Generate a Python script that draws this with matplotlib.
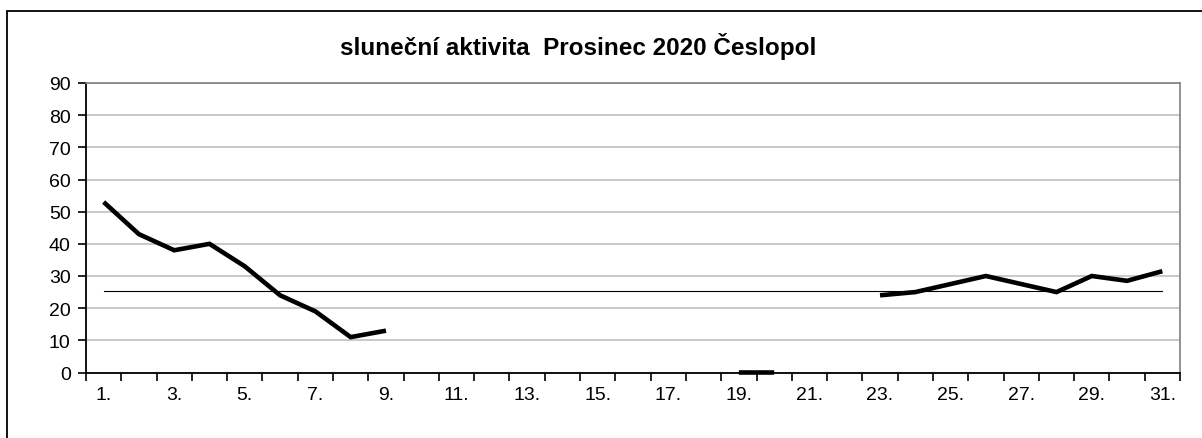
import numpy as np
import matplotlib.pyplot as plt
from matplotlib.patches import Rectangle

plt.rcParams['font.family'] = ['Liberation Sans', 'DejaVu Sans']

title = "sluneční aktivita  Prosinec 2020 Česlopol"
days = np.arange(1, 32)
activity = [53, 43, 38, 40, 33, 24, 19, 11, 13,
            np.nan, np.nan, np.nan, np.nan, np.nan, np.nan, np.nan, np.nan, np.nan,
            0, 0, np.nan, np.nan,
            24, 25, 27.5, 30, 27.5, 25, 30, 28.5, 31.5]
average = 25.3
y_ticks = np.arange(0, 91, 10)

W, H = 1202, 439
fig = plt.figure(figsize=(W / 100, H / 100), dpi=100)

# outer chart frame (cut at right and bottom edges)
fig.patches.append(Rectangle((7 / W, -0.1), 1.2, (H - 12) / H + 0.1,
                             transform=fig.transFigure, fill=False,
                             edgecolor='black', linewidth=1.3))

left, right, top, bottom = 86, 1180, 84, 373.5
ax = fig.add_axes([left / W, 1 - bottom / H, (right - left) / W, (bottom - top) / H])

ax.plot(days, activity, color='black', linewidth=3.3, solid_capstyle='butt',
        solid_joinstyle='miter', zorder=4, clip_on=False)
ax.plot([days[0], days[-1]], [average, average], color='black', linewidth=0.8, zorder=2)

ax.set_xlim(0.5, 31.5)
ax.set_ylim(0, 90)
ax.set_yticks(y_ticks)
ax.set_yticklabels([str(v) for v in y_ticks], fontsize=14)
ax.set_xticks(days[::2])
ax.set_xticklabels([f"{d}." for d in days[::2]], fontsize=14)
ax.set_xticks(np.arange(0.5, 32, 1), minor=True)
ax.tick_params(axis='x', which='major', length=0, pad=10)
ax.tick_params(axis='x', which='minor', length=6, width=1.2, direction='out', color='black')
ax.tick_params(axis='y', length=6, width=1.2, direction='out', pad=5)

ax.yaxis.grid(True, color='#c0c0c0', linewidth=1.2, zorder=0)
ax.set_axisbelow(True)
ax.spines['left'].set_linewidth(1.3)
ax.spines['bottom'].set_linewidth(1.3)
ax.spines['top'].set_color('#808080')
ax.spines['right'].set_color('#808080')
ax.spines['top'].set_linewidth(1.2)
ax.spines['right'].set_linewidth(1.2)

fig.text(578 / W, 1 - 46 / H, title, ha='center', va='center',
         fontsize=17.5, fontweight='bold')

fig.savefig('out.png', dpi=100)
